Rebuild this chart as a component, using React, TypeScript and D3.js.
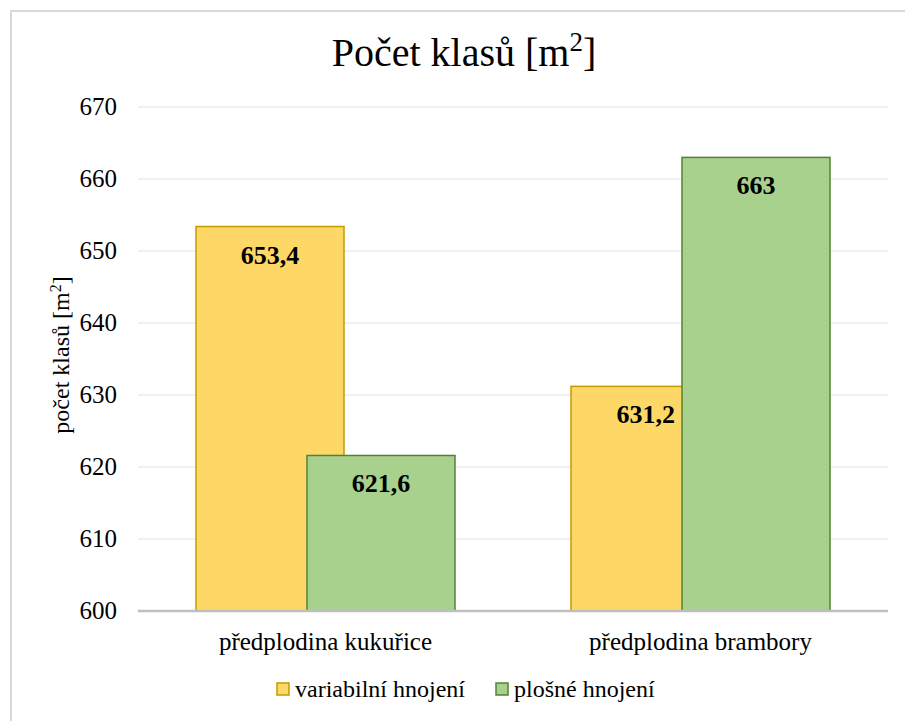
import React, { useEffect, useRef } from "react";
import * as d3 from "d3";

const categories = ["předplodina kukuřice", "předplodina brambory"];
const seriesNames = ["variabilní hnojení", "plošné hnojení"];
const variabilni = [653.4, 631.2];
const plosne = [621.6, 663];
const yTicks = [600, 610, 620, 630, 640, 650, 660, 670];

const fills = ["#fdd867", "#a9d18e"];
const strokes = ["#c59a00", "#548235"];

const W = 905;
const H = 721;
const FONT = "'Liberation Serif', 'Times New Roman', serif";

const App = () => {
  const svgRef = useRef<SVGSVGElement | null>(null);

  useEffect(() => {
    const svg = d3.select(svgRef.current);
    svg.selectAll("*").remove();

    // chart frame (only top/left edges visible in the crop)
    svg
      .append("rect")
      .attr("x", 11)
      .attr("y", 11)
      .attr("width", 2000)
      .attr("height", 2000)
      .attr("fill", "#fff")
      .attr("stroke", "#d9d9d9")
      .attr("stroke-width", 2);

    const left = 138;
    const right = 888;
    const top = 107;
    const bottom = 611;

    const x0 = d3.scaleBand().domain(categories).range([left, right]);
    const y = d3.scaleLinear().domain([600, 670]).range([bottom, top]);

    const barW = 148;
    const overlap = 37;
    const groupW = barW * 2 - overlap;
    const barX = (i: number, si: number) =>
      x0(categories[i])! + (x0.bandwidth() - groupW) / 2 + si * (barW - overlap);

    // gridlines
    svg
      .append("g")
      .selectAll("line")
      .data(yTicks.slice(1))
      .enter()
      .append("line")
      .attr("x1", left)
      .attr("x2", right)
      .attr("y1", (d) => y(d))
      .attr("y2", (d) => y(d))
      .attr("stroke", "#ebebeb")
      .attr("stroke-width", 1.5);

    // y tick labels
    svg
      .append("g")
      .selectAll("text")
      .data(yTicks)
      .enter()
      .append("text")
      .attr("x", 117)
      .attr("y", (d) => y(d))
      .attr("dy", "0.33em")
      .attr("text-anchor", "end")
      .style("font-family", FONT)
      .style("font-size", "25px")
      .attr("fill", "#000")
      .text((d) => d);

    const series = [variabilni, plosne];
    series.forEach((vals, si) => {
      svg
        .append("g")
        .selectAll("rect")
        .data(vals)
        .enter()
        .append("rect")
        .attr("x", (d, i) => barX(i, si))
        .attr("y", (d) => y(d))
        .attr("width", barW)
        .attr("height", (d) => bottom - y(d))
        .attr("fill", fills[si])
        .attr("stroke", strokes[si])
        .attr("stroke-width", 1.5);
    });

    // data labels
    series.forEach((vals, si) => {
      svg
        .append("g")
        .selectAll("text")
        .data(vals)
        .enter()
        .append("text")
        .attr("x", (d, i) => {
          // the 631,2 label sits against the visible edge of the yellow bar
          if (si === 0 && i === 1) return barX(i, si) + (barW - overlap) - 7;
          return barX(i, si) + barW / 2;
        })
        .attr("y", (d) => y(d) + 37)
        .attr("text-anchor", (d, i) => (si === 0 && i === 1 ? "end" : "middle"))
        .style("font-family", FONT)
        .style("font-size", "26px")
        .style("font-weight", "bold")
        .attr("fill", "#000")
        .text((d) => String(d).replace(".", ","));
    });

    // x axis line
    svg
      .append("line")
      .attr("x1", left)
      .attr("x2", right)
      .attr("y1", bottom)
      .attr("y2", bottom)
      .attr("stroke", "#bfbfbf")
      .attr("stroke-width", 2.5);

    // category labels
    svg
      .append("g")
      .selectAll("text")
      .data(categories)
      .enter()
      .append("text")
      .attr("x", (d) => x0(d)! + x0.bandwidth() / 2)
      .attr("y", 650)
      .attr("text-anchor", "middle")
      .style("font-family", FONT)
      .style("font-size", "25px")
      .attr("fill", "#000")
      .text((d) => d);

    // title
    const title = svg
      .append("text")
      .attr("x", 464)
      .attr("y", 66)
      .attr("text-anchor", "middle")
      .style("font-family", FONT)
      .style("font-size", "40px")
      .attr("fill", "#000");
    title.append("tspan").text("Počet klasů [m");
    title.append("tspan").attr("dy", -15).style("font-size", "27px").text("2");
    title.append("tspan").attr("dy", 15).text("]");

    // y axis title
    const yt = svg
      .append("text")
      .attr("transform", `translate(69, 355) rotate(-90)`)
      .attr("text-anchor", "middle")
      .style("font-family", FONT)
      .style("font-size", "24px")
      .attr("fill", "#000");
    yt.append("tspan").text("počet klasů [m");
    yt.append("tspan").attr("dy", -8).style("font-size", "16px").text("2");
    yt.append("tspan").attr("dy", 8).text("]");

    // legend
    const legendX = [277, 496];
    seriesNames.forEach((name, i) => {
      const g = svg.append("g").attr("transform", `translate(${legendX[i]}, 683)`);
      g.append("rect")
        .attr("width", 12)
        .attr("height", 12)
        .attr("fill", fills[i])
        .attr("stroke", strokes[i])
        .attr("stroke-width", 1.5);
      g.append("text")
        .attr("x", 18)
        .attr("y", 14)
        .style("font-family", FONT)
        .style("font-size", "24px")
        .attr("fill", "#000")
        .text(name);
    });
  }, []);

  return (
    <svg
      ref={svgRef}
      width={W}
      height={H}
      style={{ position: "absolute", left: 0, top: 0, background: "#fff" }}
    ></svg>
  );
};

export default App;
